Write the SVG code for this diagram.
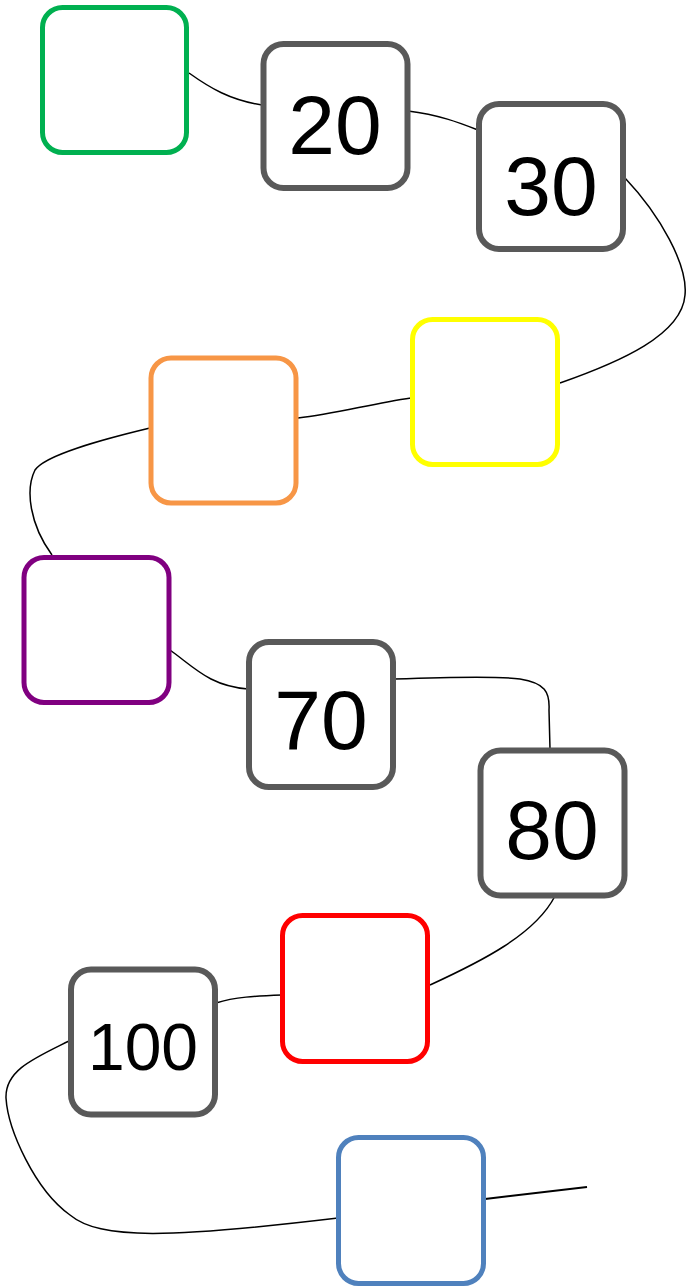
<svg xmlns="http://www.w3.org/2000/svg" width="686" height="1287" viewBox="0 0 686 1287">
<style>
.box{fill:#fff;stroke-width:5;}
.g{stroke:#595959;stroke-width:6;}
.lbl{font-family:"Liberation Sans",Arial,sans-serif;fill:#000;text-anchor:middle;}
.c{fill:none;stroke:#000;stroke-width:1.5;}
</style>
<rect width="686" height="1287" fill="#fff"/>
<g id="connectors">
<path class="c" d="M189,73 C210,88 230,100 262,105"/>
<path class="c" d="M408,111 C440,115 460,123 478,130"/>
<path class="c" d="M625,178 C660,215 688,265 685,295 C682,335 620,362 560,383"/>
<path class="c" d="M411,398 C370,404 335,414 298,418"/>
<path class="c" d="M150,428 C100,440 45,455 35,470 C25,490 30,525 52,555"/>
<path class="c" d="M170,650 C195,668 210,686 248,689"/>
<path class="c" d="M394,679 C450,677 500,676 520,679 C545,683 550,692 549,710 L550,749"/>
<path class="c" d="M555,896 C535,935 480,962 430,985"/>
<path class="c" d="M282,995 C255,996 235,997 216,1003"/>
<path class="c" d="M69,1041 C35,1058 5,1070 6,1098 C8,1130 35,1190 70,1215 C100,1240 170,1238 338,1218"/>
<path class="c" style="stroke-width:2" d="M485,1199 L587,1187"/>
</g>
<g id="n1"><rect class="box" x="42.5" y="7.5" width="144" height="145" rx="20" stroke="#00B050"/></g>
<g id="n2"><rect class="box g" x="263.5" y="44" width="144" height="144" rx="20"/><text class="lbl" x="335" y="154" font-size="84">20</text></g>
<g id="n3"><rect class="box g" x="479" y="104" width="144" height="145" rx="20"/><text class="lbl" x="551" y="215" font-size="84">30</text></g>
<g id="n4"><rect class="box" x="412.5" y="319.5" width="145" height="145" rx="20" stroke="#FFFF00"/></g>
<g id="n5"><rect class="box" x="151" y="358" width="145" height="145" rx="20" stroke="#F79646"/></g>
<g id="n6"><rect class="box" x="24" y="557.5" width="145" height="145" rx="20" stroke="#800080"/></g>
<g id="n7"><rect class="box g" x="249" y="642" width="144" height="145" rx="20"/><text class="lbl" x="321" y="749" font-size="84">70</text></g>
<g id="n8"><rect class="box g" x="480.5" y="750.5" width="144" height="145" rx="20"/><text class="lbl" x="552" y="859" font-size="84">80</text></g>
<g id="n9"><rect class="box" x="282.5" y="915.5" width="145" height="146" rx="20" stroke="#FF0000"/></g>
<g id="n10"><rect class="box g" x="71" y="969.5" width="144" height="145" rx="20"/><text class="lbl" x="143" y="1070" font-size="66">100</text></g>
<g id="n11"><rect class="box" x="338.5" y="1137.5" width="145" height="146" rx="20" stroke="#4F81BD"/></g>
</svg>
